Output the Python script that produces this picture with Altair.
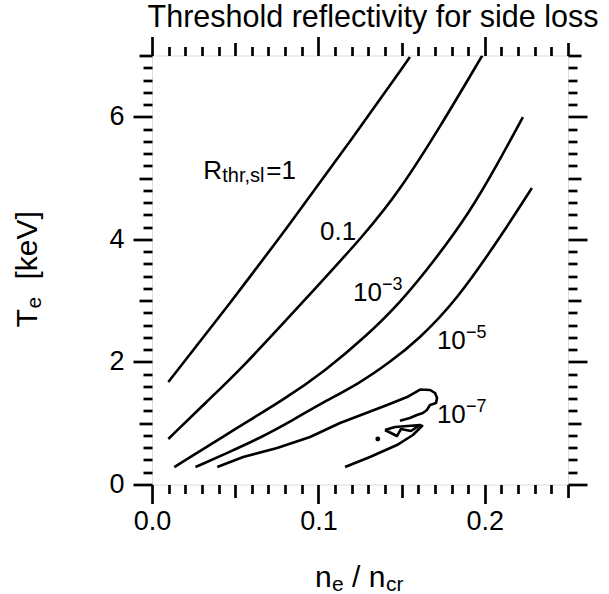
import altair as alt
import pandas as pd

FONT = "Liberation Sans"

# ---- contour lines (n_e/n_cr, T_e keV) ----
r1_x = [0.0098, 0.0458, 0.0818, 0.1178, 0.1550]
r1_y = [1.672, 2.918, 4.212, 5.550, 6.974]

r01_x = [0.0098, 0.0332, 0.0530, 0.0890, 0.1292, 0.1490, 0.1731, 0.1985]
r01_y = [0.742, 1.362, 1.868, 2.928, 4.119, 4.804, 5.832, 7.0]

r3_x = [0.0134, 0.0548, 0.0788, 0.1040, 0.1281, 0.1490, 0.1700, 0.1910, 0.2073, 0.2229]
r3_y = [0.285, 0.987, 1.378, 1.852, 2.406, 2.961, 3.662, 4.445, 5.212, 5.995]

r5_x = [0.0261, 0.0452, 0.0650, 0.0848, 0.1010, 0.1250, 0.1430, 0.1592, 0.1833, 0.2109, 0.2283]
r5_y = [0.285, 0.514, 0.759, 1.052, 1.313, 1.656, 1.998, 2.341, 3.010, 4.103, 4.837]

# 10^-7 contour pieces
r7a_x = [0.0392, 0.0548, 0.0752, 0.095, 0.113, 0.1209, 0.1413, 0.1533, 0.1611, 0.1671,
         0.1701, 0.1713, 0.1707, 0.1671, 0.1652, 0.1628, 0.1592, 0.1550, 0.1490]
r7a_y = [0.285, 0.449, 0.595, 0.775, 1.003, 1.085, 1.297, 1.427, 1.550, 1.542,
         1.493, 1.411, 1.330, 1.297, 1.215, 1.166, 1.134, 1.085, 1.040]

r7b_x = [0.1160, 0.1310, 0.1472, 0.1568, 0.1628]
r7b_y = [0.285, 0.449, 0.644, 0.808, 0.971]

r7c_x = [0.1400, 0.1472, 0.1496, 0.1556, 0.1611, 0.1460, 0.1400]
r7c_y = [0.889, 0.791, 0.905, 0.873, 0.971, 0.938, 0.889]

dot_x = [0.1357]
dot_y = [0.742]

# ---- contour labels ----
label_x = [0.101, 0.1208, 0.1712, 0.1712]
label_y = [3.99, 2.99, 2.21, 1.003]
label_main = ["0.1", "10", "10", "10"]
label_sup = ["", "\u22123", "\u22125", "\u22127"]
rlab_x = [0.0308]
rlab_y = [4.98]

# ---- ticks ----
x_ticks = [round(i * 0.01, 2) for i in range(26)]
x_major = [0.0, 0.1, 0.2]
x_mid = [0.05, 0.15, 0.25]
y_ticks = [round(i * 0.2, 1) for i in range(36)]
y_major = [0, 2, 4, 6]
y_mid = [1, 3, 5, 7]

title_text = "Threshold reflectivity for side loss"


def frame(name, xs, ys):
    return pd.DataFrame({"x": xs, "y": ys, "curve": name, "i": list(range(len(xs)))})


smooth = pd.concat([frame("1", r1_x, r1_y), frame("0.1", r01_x, r01_y),
                    frame("1e-3", r3_x, r3_y), frame("1e-5", r5_x, r5_y)])
rough = pd.concat([frame("7a", r7a_x, r7a_y), frame("7b", r7b_x, r7b_y),
                   frame("7c", r7c_x, r7c_y)])
dots = pd.DataFrame({"x": dot_x, "y": dot_y})
labels = pd.DataFrame({"x": label_x, "y": label_y, "main": label_main, "sup": label_sup})
rlab = pd.DataFrame({"x": rlab_x, "y": rlab_y})
one = pd.DataFrame({"a": [0]})

xs = alt.Scale(domain=[0, 0.25], nice=False, zero=False)
ys = alt.Scale(domain=[0, 7], nice=False, zero=False)


def tick_size(major, mid):
    return {"condition": [
        {"test": f"indexof({major}, datum.value) >= 0", "value": 19},
        {"test": f"indexof({mid}, datum.value) >= 0", "value": 13}],
        "value": 9}


common = dict(domain=False, grid=False, tickWidth=2.7, tickColor="black",
              labelFont=FONT, labelFontSize=27, labelColor="black",
              labelFlush=False, labelOverlap=False, labelBound=False, title=None)

x_bottom = alt.Axis(orient="bottom", values=x_ticks, tickSize=tick_size(x_major, x_mid),
                    labelExpr=f"indexof({x_major}, datum.value) >= 0 ? format(datum.value, '.1f') : ''",
                    labelPadding=5, **common)
y_left = alt.Axis(orient="left", values=y_ticks, tickSize=tick_size(y_major, y_mid),
                  labelExpr=f"indexof({y_major}, datum.value) >= 0 ? format(datum.value, 'd') : ''",
                  labelPadding=9, **common)
x_top = alt.Axis(orient="top", values=x_ticks, tickSize=tick_size(x_major, x_mid),
                 labels=False, **common)
y_right = alt.Axis(orient="right", values=y_ticks, tickSize=tick_size(y_major, y_mid),
                   labels=False, **common)

lines = alt.Chart(smooth).mark_line(color="black", strokeWidth=2.6, interpolate="basis",
                                    clip=True).encode(
    x=alt.X("x:Q", scale=xs, axis=x_bottom),
    y=alt.Y("y:Q", scale=ys, axis=y_left),
    detail="curve:N", order="i:Q")

lines7 = alt.Chart(rough).mark_line(color="black", strokeWidth=2.6, clip=True,
                                    strokeJoin="round").encode(
    x=alt.X("x:Q", scale=xs, axis=None),
    y=alt.Y("y:Q", scale=ys, axis=None),
    detail="curve:N", order="i:Q")

dot = alt.Chart(dots).mark_point(filled=True, color="black", size=24, opacity=1).encode(
    x=alt.X("x:Q", scale=xs, axis=None), y=alt.Y("y:Q", scale=ys, axis=None))

mirror = alt.Chart(dots).mark_point(opacity=0).encode(
    x=alt.X("x:Q", scale=xs, axis=x_top), y=alt.Y("y:Q", scale=ys, axis=y_right))

txt = dict(font=FONT, color="black", align="left", baseline="alphabetic")
lab_main = alt.Chart(labels).mark_text(fontSize=26, **txt).encode(
    x=alt.X("x:Q", scale=xs, axis=None), y=alt.Y("y:Q", scale=ys, axis=None), text="main:N")
lab_sup = alt.Chart(labels).mark_text(fontSize=18, dx=29, dy=-11, **txt).encode(
    x=alt.X("x:Q", scale=xs, axis=None), y=alt.Y("y:Q", scale=ys, axis=None), text="sup:N")

rl = [
    alt.Chart(rlab).mark_text(fontSize=26, **txt).encode(
        x=alt.X("x:Q", scale=xs, axis=None), y=alt.Y("y:Q", scale=ys, axis=None),
        text=alt.value("R")),
    alt.Chart(rlab).mark_text(fontSize=20, dx=19, dy=3, **txt).encode(
        x=alt.X("x:Q", scale=xs, axis=None), y=alt.Y("y:Q", scale=ys, axis=None),
        text=alt.value("thr,sl")),
    alt.Chart(rlab).mark_text(fontSize=26, dx=63, **txt).encode(
        x=alt.X("x:Q", scale=xs, axis=None), y=alt.Y("y:Q", scale=ys, axis=None),
        text=alt.value("=1")),
]


# titles with subscripts (pixel positions relative to the plot area)
def ptext(t, x, y, size, dx=0, dy=0, angle=0, align="left"):
    return alt.Chart(one).mark_text(fontSize=size, dx=dx, dy=dy, angle=angle, font=FONT,
                                    color="black", align=align, baseline="alphabetic").encode(
        x=alt.value(x), y=alt.value(y), text=alt.value(t))


xt_x, xt_y = 163, 531
xtitle = [ptext("n", xt_x, xt_y, 30), ptext("e", xt_x, xt_y, 21, dx=17, dy=4),
          ptext("/ n", xt_x, xt_y, 30, dx=37), ptext("cr", xt_x, xt_y, 21, dx=71, dy=4)]
yt_x, yt_y = -115, 272
ytitle = [ptext("T", yt_x, yt_y, 30, angle=270), ptext("e", yt_x, yt_y, 21, dx=19, dy=4, angle=270),
          ptext("[keV]", yt_x, yt_y, 30, dx=48, angle=270)]
ttl = ptext(title_text, 221, -29, 30.5, align="center")

chart = alt.layer(lines, lines7, dot, mirror, lab_main, lab_sup, *rl, *xtitle, *ytitle, ttl).resolve_axis(
    x="independent", y="independent"
).properties(
    width=416, height=429,
    autosize=alt.AutoSizeParams(type="none"),
    padding={"left": 152, "top": 55.5, "right": 41, "bottom": 109.5},
).configure_view(stroke=None).configure(background="white")

chart.save("out.html", embed_options={"renderer": "svg", "actions": False})
